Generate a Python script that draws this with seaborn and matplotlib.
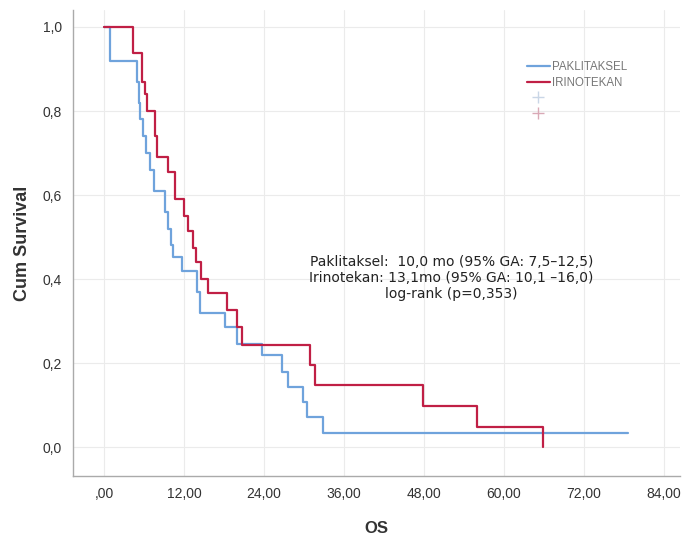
import numpy as np
import pandas as pd
import matplotlib
matplotlib.use("Agg")
import matplotlib.pyplot as plt
from matplotlib.lines import Line2D
import seaborn as sns

# ---- data (time in months, survival after each step) ----
pak_time = [0.0, 0.9, 5.0, 5.2, 5.4, 5.85, 6.3, 6.9, 7.5, 9.15, 9.6, 10.1, 10.35,
            11.7, 13.9, 14.4, 18.15, 19.95, 23.7, 26.7, 27.6, 29.85, 30.45, 32.85, 78.6]
pak_surv = [1.0, 0.92, 0.87, 0.82, 0.78, 0.74, 0.70, 0.66, 0.61, 0.56, 0.52, 0.48, 0.452,
            0.42, 0.37, 0.32, 0.286, 0.245, 0.219, 0.18, 0.143, 0.107, 0.071, 0.034, 0.034]

iri_time = [0.0, 4.4, 5.7, 6.15, 6.5, 7.7, 8.0, 9.6, 10.7, 12.0, 12.6, 13.3, 13.8,
            14.5, 15.6, 18.5, 19.9, 20.7, 30.9, 31.7, 47.9, 56.0, 65.9]
iri_surv = [1.0, 0.938, 0.87, 0.84, 0.80, 0.74, 0.69, 0.655, 0.59, 0.55, 0.515, 0.475, 0.44,
            0.40, 0.367, 0.326, 0.286, 0.243, 0.195, 0.148, 0.098, 0.048, 0.0]

groups = ["PAKLITAKSEL", "IRINOTEKAN"]
xticks = [0, 12, 24, 36, 48, 60, 72, 84]
xtick_labels = [",00", "12,00", "24,00", "36,00", "48,00", "60,00", "72,00", "84,00"]
yticks = [0.0, 0.2, 0.4, 0.6, 0.8, 1.0]
ytick_labels = ["0,0", "0,2", "0,4", "0,6", "0,8", "1,0"]
annotation = ["Paklitaksel:  10,0 mo (95% GA: 7,5\u201312,5)",
              "Irinotekan: 13,1mo (95% GA: 10,1 \u201316,0)",
              "log-rank (p=0,353)"]

colors = {"PAKLITAKSEL": "#6fa3dc", "IRINOTEKAN": "#c01f45"}

df = pd.concat([
    pd.DataFrame({"t": pak_time, "s": pak_surv, "group": groups[0]}),
    pd.DataFrame({"t": iri_time, "s": iri_surv, "group": groups[1]}),
], ignore_index=True)

sns.set_theme(style="white")
plt.rcParams["font.family"] = ["Liberation Sans", "DejaVu Sans"]

fig = plt.figure(figsize=(6.84, 5.35), dpi=100)
ax = fig.add_axes([0.1067, 0.110, 0.887, 0.871])

sns.lineplot(data=df, x="t", y="s", hue="group", palette=colors, estimator=None,
             sort=False, drawstyle="steps-post", linewidth=1.6, ax=ax, legend=False)

ax.set_xlim(-4.65, 86.4)
ax.set_ylim(-0.069, 1.04)
ax.set_xticks(xticks)
ax.set_xticklabels(xtick_labels)
ax.set_yticks(yticks)
ax.set_yticklabels(ytick_labels)
ax.tick_params(axis="both", length=0, labelsize=10, colors="#333333", pad=8)
ax.grid(True, color="#ebebeb", linewidth=0.8)
for side in ["top", "right"]:
    ax.spines[side].set_visible(False)
for side in ["left", "bottom"]:
    ax.spines[side].set_color("#aaaaaa")
    ax.spines[side].set_linewidth(1.0)

ax.set_xlabel("OS", fontsize=12, fontweight="bold", color="#333333", labelpad=14)
ax.set_ylabel("Cum Survival", fontsize=13, fontweight="bold", color="#333333", labelpad=8)

ax.text(0.624, 0.425, "\n".join(annotation), transform=ax.transAxes, ha="center",
        va="center", fontsize=10, color="#222222", linespacing=1.2,
        family=["DejaVu Sans"])

handles = [
    Line2D([0], [0], color=colors["PAKLITAKSEL"], lw=1.6, drawstyle="steps-mid"),
    Line2D([0], [0], color=colors["IRINOTEKAN"], lw=1.6, drawstyle="steps-mid"),
    Line2D([0], [0], color="#c9d6e6", lw=0, marker="+", markersize=8),
    Line2D([0], [0], color="#d9a9b6", lw=0, marker="+", markersize=8),
]
leg = ax.legend(handles, groups + ["", ""], loc="upper left", bbox_to_anchor=(0.74, 0.90),
                frameon=False, fontsize=8.3, handlelength=2.0, handletextpad=0.2,
                labelspacing=0.3, borderaxespad=0)
for txt in leg.get_texts():
    txt.set_color("#777777")

fig.savefig("out.png", dpi=100)
